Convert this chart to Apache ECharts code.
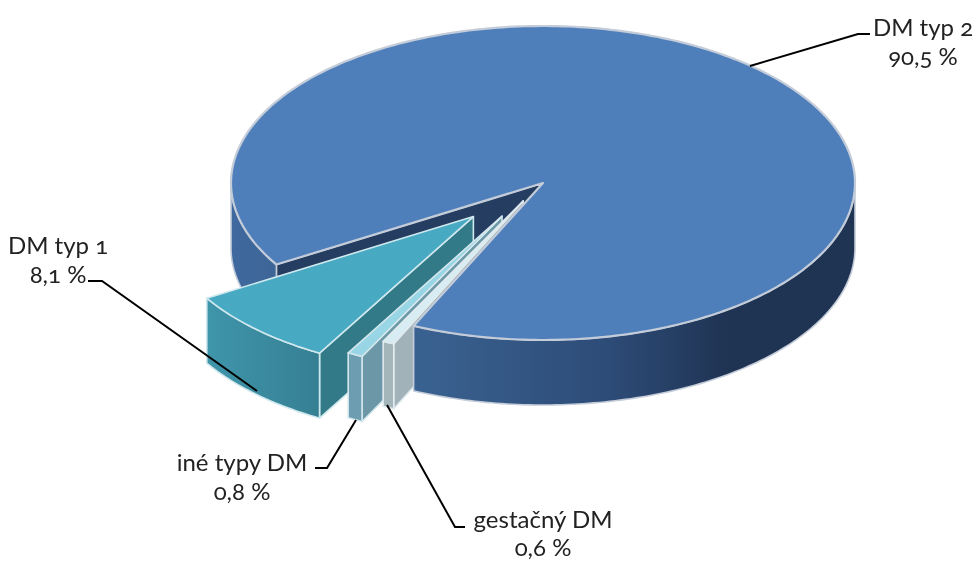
<!DOCTYPE html>
<html><head><meta charset="utf-8">
<style>
html,body{margin:0;padding:0;background:#fff}
#c{width:976px;height:561px;filter:blur(0.5px)}
svg text{font-feature-settings:"onum" 1 !important;font-variant-numeric:oldstyle-nums !important}
</style>
<script src="https://cdn.jsdelivr.net/npm/echarts@6/dist/echarts.min.js"></script>
</head><body><div id="c"></div>
<script>
const categories = ['DM typ 2', 'DM typ 1', 'iné typy DM', 'gestačný DM'];
const shares = [90.5, 8.1, 0.8, 0.6];
const explodeBy = [0, 100, 87, 46];
const explodeSquash = [1, 0.93, 0.86, 0.86];

const CX = 543, CY = 183, RX = 312, RY = 157, DEPTH = 65, START = 204.5;
const looks = [
  {top:'#4f7fbb', cut:'#243d60', edge:'#c3ccd8',
   front:[[0,'#3a6291'],[0.45,'#2d4b77'],[0.72,'#1f3352'],[1,'#1f3352']],
   left:[[0,'#3f699f'],[1,'#3d6597']]},
  {top:'#47a9c2', cut:'#327a88', edge:'#cfe8ee',
   front:[[0,'#3f95aa'],[1,'#367f93']]},
  {top:'#98d5e5', cut:'#6b97a6', edge:'#d3e6ec',
   front:[[0,'#6c9db0'],[1,'#6c9db0']]},
  {top:'#d8edf3', cut:'#a1b3b8', edge:'#dfeaee',
   front:[[0,'#a4b6ba'],[1,'#a4b6ba']]}
];
const labels = [
  {x:923, y:26,  gap:29.5, line:[[750,66],[858,34],[870,34]]},
  {x:58,  y:244, gap:29.5, line:[[88,281],[102,281],[257,391]]},
  {x:242, y:461, gap:29.5, line:[[356,420],[327,468],[315,468]]},
  {x:543, y:518, gap:28,   line:[[387,405],[455,527],[465,527]]}
];

function rad(d){return d*Math.PI/180}
function renderSlice(params, api){
  const i = params.dataIndex, v = api.value(0), look = looks[i];
  let before = 0;
  for(let k=0;k<i;k++) before += shares[k];
  const hi = START - before*3.6, lo = hi - v*3.6, ex = explodeBy[i];
  const mid = rad((hi+lo)/2);
  const ox = ex*Math.sin(mid), oy = -ex*Math.cos(mid)*RY/RX*explodeSquash[i];
  const P = (a,d=0)=>[CX+ox+RX*Math.sin(rad(a)), CY+oy-RY*Math.cos(rad(a))+d];
  const apex = d=>[CX+ox, CY+oy+d];
  const arc = (a,b,d)=>{const n=Math.max(2,Math.ceil(Math.abs(b-a))),o=[];
    for(let s=0;s<=n;s++)o.push(P(a+(b-a)*s/n,d));return o};
  const poly = (points,fill,w,z2)=>({type:'polygon',shape:{points},z2:z2||0,
    style:{fill,stroke:look.edge,lineWidth:w||1.6,lineJoin:'round'}});
  const grad = s=>({type:'linear',x:0,y:0,x2:1,y2:0,colorStops:s.map(c=>({offset:c[0],color:c[1]}))});
  const wall = (a,b,stops,z2)=>poly(arc(a,b,0).concat(arc(b,a,DEPTH)),grad(stops),1.6,z2);
  const kids = [];
  if(look.left){
    kids.push(poly([apex(0),apex(DEPTH),P(lo,DEPTH),P(lo,0)],look.cut));
    kids.push(wall(lo,-90,look.left));
    kids.push(wall(90,hi,look.front,50));
    kids.push(poly([apex(0)].concat(arc(lo,hi,0)),look.top,2.2,51));
  } else {
    kids.push(poly([apex(0),apex(DEPTH),P(lo,DEPTH),P(lo,0)],look.cut,1.6,i*10));
    kids.push(wall(lo,hi,look.front,i*10));
    kids.push(poly([apex(0)].concat(arc(lo,hi,0)),look.top,1.6,60+i));
  }
  return {type:'group',children:kids};
}
const pct = v=>v.toFixed(1).replace('.',',')+' %';
const chart = echarts.init(document.getElementById('c'),null,{renderer:'svg'});
const graphics = [];
labels.forEach((l,i)=>{
  graphics.push({type:'polyline',z:10,shape:{points:l.line},style:{stroke:'#000',lineWidth:2,fill:null}});
  [categories[i],pct(shares[i])].forEach((t,k)=>{
    graphics.push({type:'text',z:10,x:l.x,y:l.y+k*l.gap,style:{text:t,
      align:'center',verticalAlign:'middle',fill:'#222',
      font:'24px Lato'}});
  });
});
chart.setOption({
  animation:false,
  series:[{type:'custom',coordinateSystem:'none',renderItem:renderSlice,
    data:shares.map((v,i)=>({name:categories[i],value:[v]}))}],
  graphic:graphics
});
</script></body></html>
